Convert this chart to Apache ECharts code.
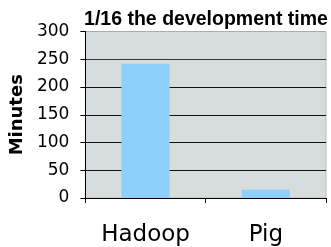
<!DOCTYPE html>
<html><head><meta charset="utf-8">
<script src="https://cdn.jsdelivr.net/npm/echarts@6/dist/echarts.min.js"></script>
<style>html,body{margin:0;padding:0;background:#fff;}#c{width:331px;height:247px;}</style>
</head><body><div id="c"></div>
<script>
const categories = ["Hadoop", "Pig"];
const minutes = [242, 15];
const yTicks = [0, 50, 100, 150, 200, 250, 300];
const titleText = "1/16 the development time";
const yName = "Minutes";

const chart = echarts.init(document.getElementById('c'), null, {renderer: 'canvas'});
chart.setOption({
  animation: false,
  title: {
    text: titleText, left: 201, top: 5, textAlign: 'center',
    textStyle: {fontFamily: 'Liberation Sans', fontWeight: 'bold', fontSize: 19.5, color: '#000'}
  },
  grid: {
    left: 80.5, right: 5, top: 31.5, bottom: 49,
    show: true, backgroundColor: '#d6dddc', borderColor: '#b8bcbc', borderWidth: 1
  },
  xAxis: {
    type: 'category', data: categories,
    axisLine: {lineStyle: {color: '#000', width: 1}},
    axisTick: {show: true, length: 5, lineStyle: {color: '#000'}},
    axisLabel: {fontFamily: 'DejaVu Sans', fontSize: 23, color: '#000', margin: 26}
  },
  yAxis: {
    type: 'value', min: yTicks[0], max: yTicks[yTicks.length - 1], interval: 50,
    name: yName, nameLocation: 'middle', nameGap: 53,
    nameTextStyle: {fontFamily: 'DejaVu Sans', fontWeight: 'bold', fontSize: 18, color: '#000'},
    axisLine: {show: true, lineStyle: {color: '#000', width: 1}},
    axisTick: {show: true, length: 5, lineStyle: {color: '#000'}},
    axisLabel: {fontFamily: 'DejaVu Sans', fontSize: 17, color: '#000', margin: 16},
    splitLine: {lineStyle: {color: ['#111', '#111', '#111', '#111', '#111', '#333', '#a9adad'], width: 1}}
  },
  series: [{
    type: 'bar', data: minutes, barWidth: '40%',
    itemStyle: {color: '#8dd0fa'}
  }]
});
</script></body></html>
